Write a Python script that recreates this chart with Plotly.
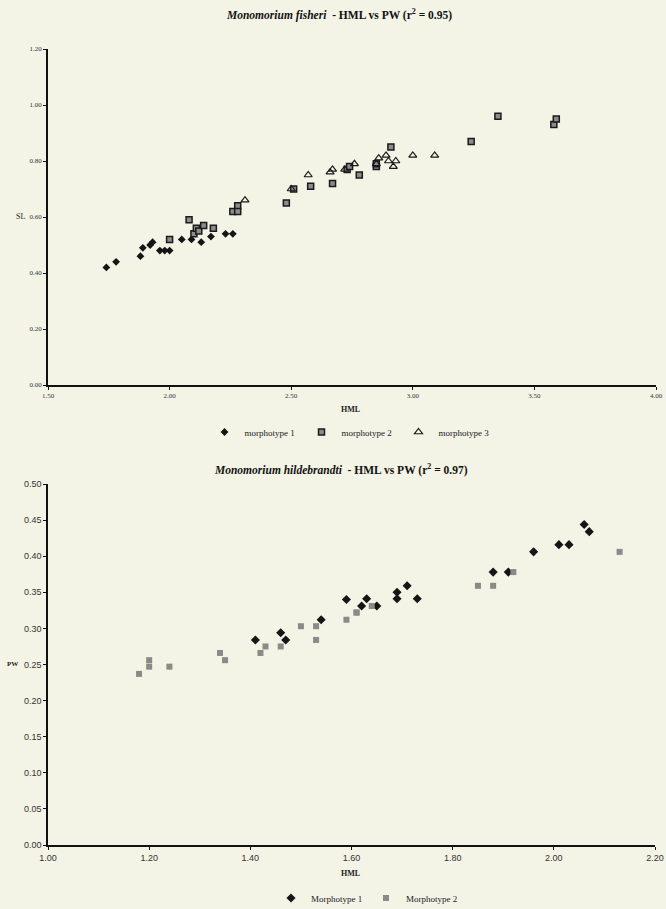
import plotly.graph_objects as go

# ---------------- data: Monomorium fisheri (top) ----------------
hml_m1 = [1.74, 1.78, 1.88, 1.89, 1.92, 1.93, 1.96, 1.98, 2.00, 2.05, 2.09, 2.13, 2.17, 2.23, 2.26]
sl_m1 = [0.42, 0.44, 0.46, 0.49, 0.50, 0.51, 0.48, 0.48, 0.48, 0.52, 0.52, 0.51, 0.53, 0.54, 0.54]

hml_m2 = [2.00, 2.08, 2.10, 2.11, 2.12, 2.14, 2.18, 2.26, 2.28, 2.28, 2.48, 2.51, 2.58, 2.67,
          2.73, 2.74, 2.78, 2.85, 2.85, 2.91, 3.24, 3.35, 3.58, 3.59]
sl_m2 = [0.52, 0.59, 0.54, 0.56, 0.55, 0.57, 0.56, 0.62, 0.64, 0.62, 0.65, 0.70, 0.71, 0.72,
         0.77, 0.78, 0.75, 0.78, 0.79, 0.85, 0.87, 0.96, 0.93, 0.95]

hml_m3 = [2.31, 2.50, 2.57, 2.66, 2.67, 2.72, 2.76, 2.85, 2.86, 2.89, 2.90, 2.92, 2.93, 3.00, 3.09]
sl_m3 = [0.66, 0.70, 0.75, 0.76, 0.77, 0.77, 0.79, 0.79, 0.81, 0.82, 0.80, 0.78, 0.80, 0.82, 0.82]

# ---------------- data: Monomorium hildebrandti (bottom) ----------------
hml_h1 = [2.06, 2.07, 2.01, 2.03, 1.96, 1.88, 1.91, 1.69, 1.69, 1.71, 1.73, 1.59, 1.63, 1.62,
          1.65, 1.54, 1.46, 1.47, 1.41]
pw_h1 = [0.444, 0.434, 0.416, 0.416, 0.406, 0.378, 0.378, 0.350, 0.341, 0.359, 0.341, 0.340,
         0.341, 0.331, 0.331, 0.312, 0.294, 0.284, 0.284]

hml_h2 = [1.64, 1.61, 1.61, 1.59, 1.53, 1.50, 1.53, 1.46, 1.43, 1.42, 1.35, 1.34, 1.24, 1.20,
          1.20, 1.18, 1.85, 1.88, 1.92, 2.13]
pw_h2 = [0.331, 0.322, 0.322, 0.312, 0.303, 0.303, 0.284, 0.275, 0.275, 0.266, 0.256, 0.266,
         0.247, 0.256, 0.247, 0.237, 0.359, 0.359, 0.378, 0.406]

top_xticks = [1.5, 2.0, 2.5, 3.0, 3.5, 4.0]
top_yticks = [0.0, 0.2, 0.4, 0.6, 0.8, 1.0, 1.2]
bot_xticks = [1.0, 1.2, 1.4, 1.6, 1.8, 2.0, 2.2]
bot_yticks = [0.0, 0.05, 0.10, 0.15, 0.20, 0.25, 0.30, 0.35, 0.40, 0.45, 0.50]

W, H = 666, 909
BG = "#f3f3e6"
SERIF = "Liberation Serif"
SANS = "Liberation Sans"


def px(x):
    return x / W


def py(y):
    return 1 - y / H


fig = go.Figure()

fig.add_trace(go.Scatter(x=hml_m1, y=sl_m1, mode="markers", name="morphotype 1",
                         marker=dict(symbol="diamond", size=6, color="#151515"),
                         xaxis="x", yaxis="y", legend="legend"))
fig.add_trace(go.Scatter(x=hml_m2, y=sl_m2, mode="markers", name="morphotype 2",
                         marker=dict(symbol="square", size=6, color="#8c8c8c",
                                     line=dict(color="#1a1a1a", width=1.5)),
                         xaxis="x", yaxis="y", legend="legend"))
fig.add_trace(go.Scatter(x=hml_m3, y=sl_m3, mode="markers", name="morphotype 3",
                         marker=dict(symbol="triangle-up-open", size=7, color="#1a1a1a",
                                     line=dict(width=1.2)),
                         xaxis="x", yaxis="y", legend="legend"))

fig.add_trace(go.Scatter(x=hml_h1, y=pw_h1, mode="markers", name="Morphotype 1",
                         marker=dict(symbol="diamond", size=7, color="#151515"),
                         xaxis="x2", yaxis="y2", legend="legend2"))
fig.add_trace(go.Scatter(x=hml_h2, y=pw_h2, mode="markers", name="Morphotype 2",
                         marker=dict(symbol="square", size=6, color="#8a8a86"),
                         xaxis="x2", yaxis="y2", legend="legend2"))

axis_common = dict(showline=True, linecolor="#111111", linewidth=1.5, ticks="outside",
                   ticklen=3, tickwidth=1.2, tickcolor="#111111", showgrid=False,
                   zeroline=False, automargin=False)

fig.update_layout(
    width=W, height=H,
    margin=dict(l=0, r=0, t=0, b=0, autoexpand=False),
    paper_bgcolor=BG, plot_bgcolor=BG,
    xaxis=dict(domain=[px(48), px(656)], range=[1.5, 4.0], tickvals=top_xticks,
               tickformat=".2f", anchor="y", ticklabeloverflow="allow",
               tickfont=dict(family=SERIF, size=7, color="#333333"), **axis_common),
    yaxis=dict(domain=[py(385), py(49)], range=[0, 1.2], tickvals=top_yticks,
               tickformat=".2f", anchor="x",
               tickfont=dict(family=SERIF, size=7, color="#333333"), **axis_common),
    xaxis2=dict(domain=[px(48), px(655)], range=[1.0, 2.2], tickvals=bot_xticks,
                tickformat=".2f", anchor="y2", ticklabeloverflow="allow",
                tickfont=dict(family=SANS, size=9, color="#333333"), **axis_common),
    yaxis2=dict(domain=[py(845), py(484)], range=[0, 0.5], tickvals=bot_yticks,
                tickformat=".2f", anchor="x2",
                tickfont=dict(family=SANS, size=9, color="#333333"), **axis_common),
    legend=dict(orientation="h", x=px(350), xanchor="center", y=py(432), yanchor="middle",
                font=dict(family=SERIF, size=9, color="#222222"), bgcolor="rgba(0,0,0,0)",
                itemwidth=30, entrywidth=52, tracegroupgap=0),
    legend2=dict(orientation="h", x=px(366), xanchor="center", y=py(898), yanchor="middle",
                 font=dict(family=SERIF, size=9, color="#222222"), bgcolor="rgba(0,0,0,0)",
                 itemwidth=30, entrywidth=50, tracegroupgap=0),
    showlegend=True,
)

annotations = [
    dict(text="<b><i>Monomorium fisheri</i>  - HML vs PW (r<sup>2</sup> = 0.95)</b>",
         x=px(339), y=py(15), font=dict(family=SERIF, size=11.5, color="#111111")),
    dict(text="<b><i>Monomorium hildebrandti</i>  - HML vs PW (r<sup>2</sup> = 0.97)</b>",
         x=px(341), y=py(470), font=dict(family=SERIF, size=11.5, color="#111111")),
    dict(text="<b>HML</b>", x=px(351), y=py(409),
         font=dict(family=SERIF, size=8, color="#222222")),
    dict(text="<b>HML</b>", x=px(351), y=py(873),
         font=dict(family=SERIF, size=8, color="#222222")),
    dict(text="SL", x=px(20), y=py(217), font=dict(family=SERIF, size=8, color="#222222")),
    dict(text="<b>PW</b>", x=px(12), y=py(664),
         font=dict(family=SERIF, size=7, color="#222222")),
]
for a in annotations:
    a.update(xref="paper", yref="paper", showarrow=False, xanchor="center", yanchor="middle")
fig.update_layout(annotations=annotations)

fig.write_html(
    "out.html",
    config={"displayModeBar": False},
    post_script="document.body.style.margin='0';document.body.style.background='%s';" % BG,
)
